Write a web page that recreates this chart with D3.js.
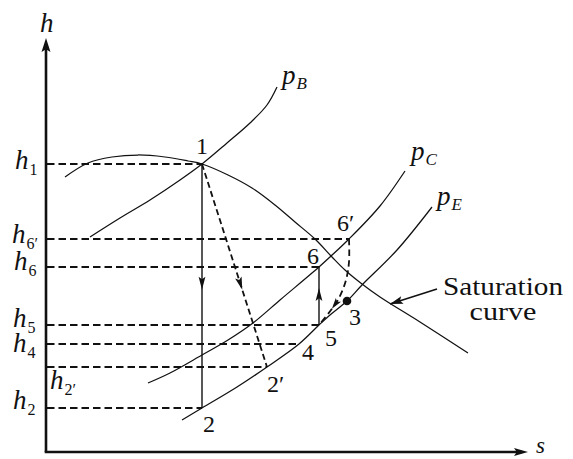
<!DOCTYPE html>
<html>
<head>
<meta charset="utf-8">
<script src="https://cdn.jsdelivr.net/npm/d3@7"></script>
<style>
  body { margin: 0; background: #fff; }
  svg { display: block; }
  text { font-family: "Liberation Serif", "Times New Roman", serif; fill: #111; }
</style>
</head>
<body>
<svg id="chart" width="573" height="459" font-family="Liberation Serif, serif"></svg>
<script>
// h–s (Mollier) diagram of a refrigeration / heat-pump cycle with an
// ideal (1→2) and a real (1→2′) expansion, drawn in arbitrary s and h units.

// ---- data -------------------------------------------------------------
// Saturation dome (s, h)
const saturationCurve = [
  [1.9, 27.5], [4.2, 28.9], [6.6, 29.5], [9.2, 29.7], [11.9, 29.5],
  [14.2, 29.1], [15.6, 28.8], [18.2, 27.7], [20.6, 26.4], [22.9, 24.7],
  [24.9, 23.0], [26.9, 21.3], [28.6, 19.5], [29.9, 18.2], [31.6, 16.8],
  [33.4, 15.5], [37.4, 13.0], [42.2, 9.9]
];
// Isobars
const isobarB = [
  [4.4, 21.5], [7.4, 23.4], [10.4, 25.2], [13.4, 27.2], [15.6, 28.8],
  [18.1, 30.9], [20.4, 32.9], [22.1, 34.7], [23.1, 36.5]
];
const isobarC = [
  [10.2, 6.9], [12.4, 7.9], [15.6, 9.7], [18.2, 11.2], [20.7, 12.9],
  [23.4, 15.2], [27.3, 18.5], [28.4, 19.5], [30.3, 21.3], [33.4, 24.6],
  [35.9, 28.1]
];
const isobarE = [
  [13.6, 3.2], [15.6, 4.4], [19.1, 6.5], [22.1, 8.5], [25.3, 10.8],
  [27.3, 12.7], [28.4, 13.7], [30.1, 15.1], [31.6, 16.7], [35.1, 20.2],
  [38.6, 24.5]
];
const isobarNames = ["B", "C", "E"];

// Cycle states
const stateNames = ["1", "2", "2′", "3", "4", "5", "6", "6′"];
const stateS     = [15.6, 15.6, 22.1, 30.1, 25.3, 27.3, 27.3, 30.3];
const stateH     = [28.8, 4.4, 8.5, 15.1, 10.8, 12.7, 18.5, 21.3];

// Enthalpy levels marked on the h axis (state name → subscript)
const hLevelStates = ["1", "6′", "6", "5", "4", "2′", "2"];

// Real compression path 6′ → 5 (dashed)
const path6pTo5 = [
  [30.3, 21.3], [30.3, 19.0], [30.0, 17.2], [29.3, 15.4], [28.5, 14.2], [27.3, 12.7]
];

// Pointer to the saturation curve
const saturationPointer = [[39.1, 16.3], [34.4, 14.8]];

// ---- layout -----------------------------------------------------------
const x = d3.scaleLinear().domain([0, 48.4]).range([46, 530]);
const y = d3.scaleLinear().domain([0, 41.4]).range([452, 38]);

const svg = d3.select("#chart");
const ink = "#111";
const line = d3.line().x(d => x(d[0])).y(d => y(d[1]));
const smooth = d3.line().x(d => x(d[0])).y(d => y(d[1])).curve(d3.curveCatmullRom.alpha(0.5));
const st = name => {
  const i = stateNames.indexOf(name);
  return [stateS[i], stateH[i]];
};

// filled arrowhead with its tip at (tx, ty), pointing along angle a
function arrowHead(g, tx, ty, a, len = 13, half = 3.6) {
  const c = Math.cos(a), s = Math.sin(a);
  const p = (u, v) => [tx - u * c - v * s, ty - u * s + v * c];
  const pts = [p(0, 0), p(len, half), p(len * 0.8, 0), p(len, -half)];
  g.append("path")
    .attr("d", "M" + pts.map(q => q.join(",")).join("L") + "Z")
    .attr("fill", ink);
}
// arrowhead placed on a drawn path at a fraction of its length
function arrowOnPath(g, pathNode, frac, len, half) {
  const L = pathNode.getTotalLength();
  const tip = pathNode.getPointAtLength(L * frac);
  const back = pathNode.getPointAtLength(Math.max(0, L * frac - 4));
  arrowHead(g, tip.x, tip.y, Math.atan2(tip.y - back.y, tip.x - back.x), len, half);
}

// ---- axes -------------------------------------------------------------
const axes = svg.append("g");
axes.append("line")
  .attr("x1", x(0)).attr("y1", y(0)).attr("x2", x(0)).attr("y2", y.range()[1] + 8)
  .attr("stroke", ink).attr("stroke-width", 2.6);
arrowHead(axes, x(0), y.range()[1], -Math.PI / 2, 14, 4.5);
axes.append("line")
  .attr("x1", x(0) - 1.3).attr("y1", y(0)).attr("x2", x.range()[1] - 8).attr("y2", y(0))
  .attr("stroke", ink).attr("stroke-width", 2.6);
arrowHead(axes, x.range()[1] - 2, y(0), 0, 14, 4);

axes.append("text").attr("x", x(0) - 6).attr("y", 32)
  .attr("font-size", 27).attr("font-style", "italic").text("h");
axes.append("text").attr("x", x.range()[1] + 6).attr("y", y(0) + 1)
  .attr("font-size", 23).attr("font-style", "italic").text("s");

// ---- enthalpy levels (dashed) -----------------------------------------
const levels = svg.append("g");
hLevelStates.forEach(name => {
  const [s, h] = st(name);
  levels.append("line")
    .attr("x1", x(0) + 1).attr("x2", x(s)).attr("y1", y(h)).attr("y2", y(h))
    .attr("stroke", ink).attr("stroke-width", 1.8).attr("stroke-dasharray", "7.5,4");
});

// h-axis labels: "h" with the state as subscript
const hLabelPos = { "1": [15, 5], "6′": [12, 4], "6": [14, 3], "5": [13, 2], "4": [13, 8], "2′": [50, 22], "2": [13, 1] };
hLevelStates.forEach(name => {
  const [, h] = st(name);
  const [lx, dy] = hLabelPos[name];
  const t = levels.append("text").attr("x", lx).attr("y", y(h) + dy).attr("font-size", 27);
  t.append("tspan").attr("font-style", "italic").text("h");
  t.append("tspan").attr("font-size", 16).attr("dy", 6).attr("dx", 1).text(name);
});

// ---- curves -----------------------------------------------------------
const curves = svg.append("g").attr("fill", "none").attr("stroke", ink).attr("stroke-width", 1.25);
curves.append("path").attr("d", smooth(saturationCurve));
[isobarB, isobarC, isobarE].forEach(c => curves.append("path").attr("d", smooth(c)));

// isobar labels at the top end of each isobar
const isobarLabelOffset = [[5, -3], [6, -11], [5, -2]];
[isobarB, isobarC, isobarE].forEach((c, i) => {
  const end = c[c.length - 1];
  const t = svg.append("text")
    .attr("x", x(end[0]) + isobarLabelOffset[i][0])
    .attr("y", y(end[1]) + isobarLabelOffset[i][1])
    .attr("font-size", 27);
  t.append("tspan").attr("font-style", "italic").text("p");
  t.append("tspan").attr("font-style", "italic").attr("font-size", 17).attr("dy", 5).attr("dx", 1).text(isobarNames[i]);
});

// ---- cycle processes ----------------------------------------------------
const proc = svg.append("g").attr("fill", "none").attr("stroke", ink);

// 1 → 2 isentropic expansion
const p12 = proc.append("path").attr("d", line([st("1"), st("2")])).attr("stroke-width", 1.4);
arrowOnPath(svg, p12.node(), 0.515, 13, 3.4);

// 1 → 2′ real expansion
const p12r = proc.append("path").attr("d", line([st("1"), st("2′")]))
  .attr("stroke-width", 1.8).attr("stroke-dasharray", "6,3.5");
arrowOnPath(svg, p12r.node(), 0.62, 13, 3.4);

// 5 → 6 isentropic compression
const p56 = proc.append("path").attr("d", line([st("5"), st("6")])).attr("stroke-width", 1.4);
arrowOnPath(svg, p56.node(), 0.64, 13, 3.4);

// 6′ → 5 real path (dashed)
const p65 = proc.append("path").attr("d", smooth(path6pTo5))
  .attr("stroke-width", 1.8).attr("stroke-dasharray", "6.5,4");
arrowOnPath(svg, p65.node(), 0.78, 11, 3.2);

// state 3 dot
svg.append("circle").attr("cx", x(st("3")[0])).attr("cy", y(st("3")[1])).attr("r", 4.3).attr("fill", ink);

// state labels
const stateLabelOffset = {
  "1": [-6, -10], "2": [1, 24], "2′": [0, 25], "3": [2, 24],
  "4": [3, 16], "5": [6, 21], "6": [-12, -3], "6′": [-12, -8]
};
stateNames.forEach(name => {
  const [s, h] = st(name);
  const [dx, dy] = stateLabelOffset[name];
  svg.append("text").attr("x", x(s) + dx).attr("y", y(h) + dy).attr("font-size", 24).text(name);
});

// ---- saturation curve pointer ----------------------------------------
const ptr = svg.append("path").attr("d", line(saturationPointer))
  .attr("fill", "none").attr("stroke", ink).attr("stroke-width", 1.6);
arrowOnPath(svg, ptr.node(), 1, 13, 4);
const pStart = saturationPointer[0];
svg.append("text").attr("x", x(pStart[0]) + 66).attr("y", y(pStart[1]) + 6)
  .attr("font-size", 25).attr("text-anchor", "middle")
  .attr("textLength", 120).attr("lengthAdjust", "spacingAndGlyphs").text("Saturation");
svg.append("text").attr("x", x(pStart[0]) + 66).attr("y", y(pStart[1]) + 31)
  .attr("font-size", 25).attr("text-anchor", "middle")
  .attr("textLength", 67).attr("lengthAdjust", "spacingAndGlyphs").text("curve");
</script>
</body>
</html>
